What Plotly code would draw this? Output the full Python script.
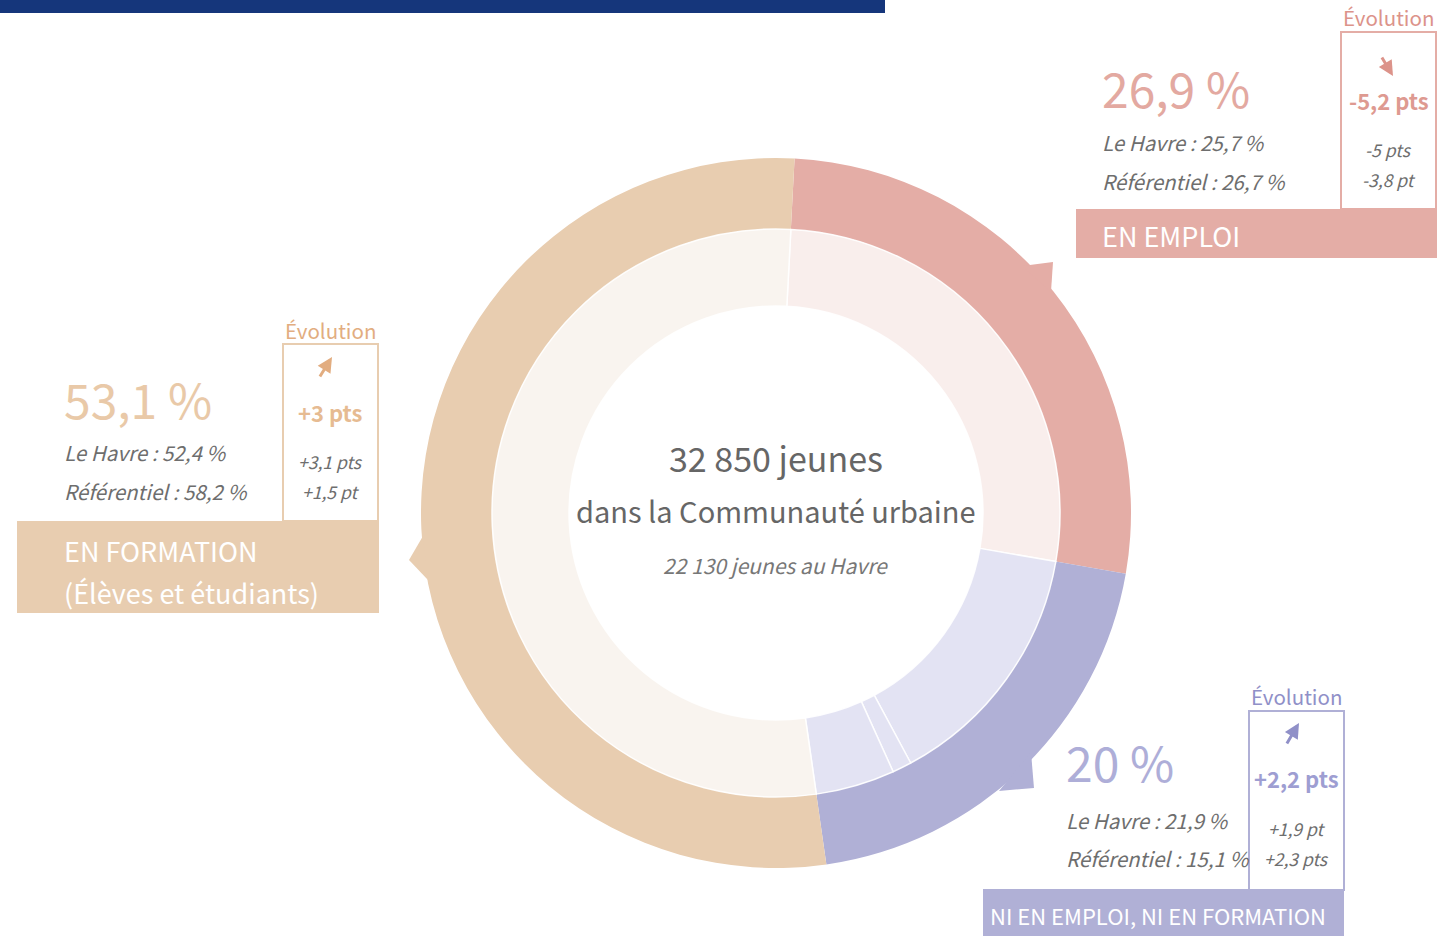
import plotly.graph_objects as go

W, H = 1450, 936

# ---------------- data ----------------
outer_labels = ["En emploi", "Ni en emploi, ni en formation", "En formation"]
outer_values = [26.9, 20.0, 53.1]
outer_colors = ["#e4ada6", "#b0b0d6", "#e8cdb0"]

inner_labels = ["En emploi", "NEET (a)", "NEET (b)", "NEET (c)", "En formation"]
inner_values = [26.9, 14.4, 1.1, 4.5, 53.1]
inner_colors = ["#f9eeec", "#e3e3f3", "#e3e3f3", "#e3e3f3", "#f9f4ef"]

block_pct = ["26,9 %", "53,1 %", "20 %"]
block_havre = ["Le Havre : 25,7 %", "Le Havre : 52,4 %", "Le Havre : 21,9 %"]
block_ref = ["Référentiel : 26,7 %", "Référentiel : 58,2 %", "Référentiel : 15,1 %"]
block_evo = ["-5,2 pts", "+3 pts", "+2,2 pts"]
block_evo_havre = ["-5 pts", "+3,1 pts", "+1,9 pt"]
block_evo_ref = ["-3,8 pt", "+1,5 pt", "+2,3 pts"]
block_title = [["EN EMPLOI"], ["EN FORMATION", "(Élèves et étudiants)"], ["NI EN EMPLOI, NI EN FORMATION"]]

center_total = "32 850 jeunes"
center_sub = "dans la Communauté urbaine"
center_havre = "22 130 jeunes au Havre"

# ---------------- style ----------------
COND = "Noto Sans CJK JP, Noto Sans, Roboto, sans-serif"
GREY = "#6e6e6e"

block_main = ["#e3a9a1", "#e9c9a8", "#aeaed8"]
block_bar = ["#e4ada6", "#e8cdb0", "#b0b0d6"]
block_evo_col = ["#dc938a", "#e2ad80", "#9090c8"]
block_evo_big = ["#de9a91", "#e6bb92", "#9e9ed2"]

# layout geometry in pixels
blocks = [
    dict(tx=1100, title_x=1100, title_size=27, pct_y=87, havre_y=142, ref_y=181, box=(1341, 32, 1436, 209),
         bar=(1076, 209, 1437, 258), title_y=[235], evo_y=17, arrow=((1393, 76), (1381, 56)),
         big_y=100, e1_y=149, e2_y=180),
    dict(tx=62, title_x=62, title_size=27, pct_y=398, havre_y=452, ref_y=491, box=(283, 344, 378, 521),
         bar=(17, 521, 379, 613), title_y=[550, 592], evo_y=330, arrow=((332, 357), (319, 378)),
         big_y=412, e1_y=461, e2_y=491),
    dict(tx=1064, title_x=988, title_size=22, pct_y=761, havre_y=820, ref_y=858, box=(1249, 711, 1344, 890),
         bar=(983, 889, 1344, 940), title_y=[915], evo_y=696, arrow=((1299, 723), (1286, 745)),
         big_y=778, e1_y=828, e2_y=858),
]


def px(x):
    return x / W


def py(y):
    return 1 - y / H


CX, CY = 776, 513
R_OUT, R_MID, R_IN = 355, 284, 207

fig = go.Figure()

fig.add_trace(go.Pie(
    labels=outer_labels, values=outer_values, sort=False, direction="clockwise",
    rotation=3, hole=R_MID / R_OUT, textinfo="none", hoverinfo="label+percent",
    marker=dict(colors=outer_colors, line=dict(color="white", width=0)),
    domain=dict(x=[px(CX - R_OUT), px(CX + R_OUT)], y=[py(CY + R_OUT), py(CY - R_OUT)]),
    showlegend=False,
))
fig.add_trace(go.Pie(
    labels=inner_labels, values=inner_values, sort=False, direction="clockwise",
    rotation=3, hole=R_IN / R_MID, textinfo="none", hoverinfo="label+percent",
    marker=dict(colors=inner_colors, line=dict(color="rgba(255,255,255,0.9)", width=1.5)),
    domain=dict(x=[px(CX - R_MID), px(CX + R_MID)], y=[py(CY + R_MID), py(CY - R_MID)]),
    showlegend=False,
))

shapes = []
annotations = []

# top banner
shapes.append(dict(type="rect", xref="paper", yref="paper", x0=px(0), x1=px(885), y0=py(13), y1=py(-2),
                   fillcolor="#15367b", line=dict(width=0), layer="above"))


def tri(points, color):
    d = "M " + " L ".join(f"{px(x):.5f},{py(y):.5f}" for x, y in points) + " Z"
    return dict(type="path", xref="paper", yref="paper", path=d, fillcolor=color,
                line=dict(width=0), layer="above")


# speech-bubble pointers on the outer ring
shapes.append(tri([(1022, 266), (1053, 262), (1051, 292)], outer_colors[0]))
shapes.append(tri([(1031, 752), (1034, 788), (999, 791)], outer_colors[1]))
shapes.append(tri([(423, 536), (409, 560), (428, 580)], outer_colors[2]))


def ann(text, x, y, size, color, xanchor="left", italic=False, bold=False):
    t = text
    if italic:
        t = f"<i>{t}</i>"
    if bold:
        t = f"<b>{t}</b>"
    annotations.append(dict(text=t, x=px(x), y=py(y), xref="paper", yref="paper", showarrow=False,
                            xanchor=xanchor, yanchor="middle",
                            font=dict(size=size, color=color, family=COND)))


for i, b in enumerate(blocks):
    x0, y0, x1, y1 = b["box"]
    shapes.append(dict(type="rect", xref="paper", yref="paper", x0=px(x0), x1=px(x1), y0=py(y1), y1=py(y0),
                       fillcolor="rgba(0,0,0,0)", line=dict(color=block_bar[i], width=2), layer="above"))
    bx0, by0, bx1, by1 = b["bar"]
    shapes.append(dict(type="rect", xref="paper", yref="paper", x0=px(bx0), x1=px(bx1), y0=py(by1), y1=py(by0),
                       fillcolor=block_bar[i], line=dict(width=0), layer="above"))

    ann(block_pct[i], b["tx"], b["pct_y"], 48, block_main[i])
    ann(block_havre[i], b["tx"], b["havre_y"], 20.5, GREY, italic=True)
    ann(block_ref[i], b["tx"], b["ref_y"], 20.5, GREY, italic=True)
    for line, ty in zip(block_title[i], b["title_y"]):
        ann(line, b["title_x"], ty, b["title_size"], "white")
    bc = (x0 + x1) / 2
    ann("Évolution", bc, b["evo_y"], 20.5, block_evo_col[i], xanchor="center")
    ann(block_evo[i], bc, b["big_y"], 22, block_evo_big[i], xanchor="center", bold=True)
    ann(block_evo_havre[i], bc, b["e1_y"], 17.5, GREY, xanchor="center", italic=True)
    ann(block_evo_ref[i], bc, b["e2_y"], 17.5, GREY, xanchor="center", italic=True)
    (hx, hy), (tx_, ty_) = b["arrow"]
    annotations.append(dict(text="", x=px(hx), y=py(hy), xref="paper", yref="paper", showarrow=True,
                            ax=tx_ - hx, ay=ty_ - hy, arrowhead=2, arrowsize=1, arrowwidth=3,
                            arrowcolor=block_evo_col[i], standoff=0))

# centre texts
for text, y, size, italic, col in [(center_total, 457, 34, False, "#666666"),
                                   (center_sub, 510, 29, False, "#666666"),
                                   (center_havre, 565, 21, True, "#777777")]:
    annotations.append(dict(text=f"<i>{text}</i>" if italic else text, x=px(CX), y=py(y),
                            xref="paper", yref="paper", showarrow=False, xanchor="center", yanchor="middle",
                            font=dict(size=size, color=col, family=COND)))

fig.update_layout(
    width=W, height=H, margin=dict(l=0, r=0, t=0, b=0),
    paper_bgcolor="white", plot_bgcolor="white",
    shapes=shapes, annotations=annotations, showlegend=False,
)

fig.write_html("out.html", config={"displayModeBar": False},
               post_script="document.body.style.margin='0px';")
